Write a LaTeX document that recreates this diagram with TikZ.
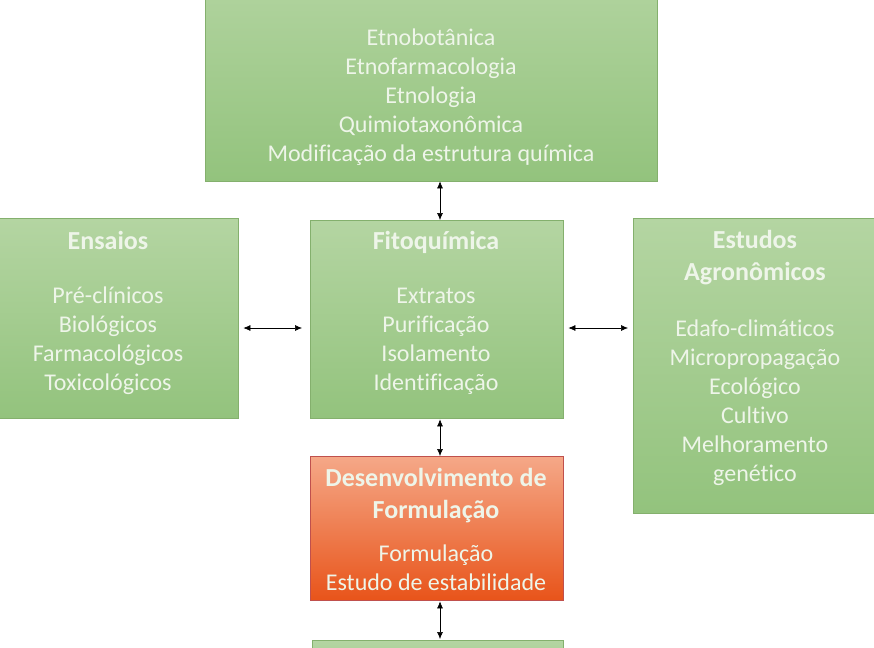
\documentclass[tikz,border=0pt]{standalone}
\usepackage{fontspec}
\setmainfont{Carlito}[Ligatures=NoCommon]
\usetikzlibrary{arrows.meta}

\definecolor{greentop}{HTML}{B4D5A2}
\definecolor{greenbot}{HTML}{93C37D}
\definecolor{greenline}{HTML}{84B06D}
\definecolor{orangetop}{HTML}{F5A888}
\definecolor{orangebot}{HTML}{E8541A}
\definecolor{orangeline}{HTML}{C0504D}
\definecolor{txtcol}{HTML}{EEF5E9}

\begin{document}
\begin{tikzpicture}[x=1pt, y=-1pt,
  box/.style={draw=greenline, top color=greentop, bottom color=greenbot, inner sep=0pt, anchor=north west},
  hotbox/.style={draw=orangeline, top color=orangetop, bottom color=orangebot, inner sep=0pt, anchor=north west},
  items/.style={text=txtcol, align=center, font=\fontsize{24}{29}\selectfont},
  heading/.style={text=txtcol, align=center, font=\bfseries\fontsize{26}{32}\selectfont},
  link/.style={{Latex[length=7pt,width=6pt]}-{Latex[length=7pt,width=6pt]}, semithick}]
  \useasboundingbox (0,0) rectangle (874,647);

  % boxes
  \node[box, minimum width=452pt, minimum height=221pt] (etno) at (205,-40) {};
  \node[box, minimum width=260pt, minimum height=200pt] (ensaios) at (-22,218) {};
  \node[box, minimum width=253pt, minimum height=198pt] (fito) at (310,220) {};
  \node[box, minimum width=245pt, minimum height=295pt] (agro) at (633,218) {};
  \node[hotbox, minimum width=253pt, minimum height=144pt] (form) at (310,456) {};
  \node[box, minimum width=251pt, minimum height=60pt] (next) at (312,640) {};

  % texts
  \node[items] (etnoitems) at (431,97) {Etnobotânica\\Etnofarmacologia\\Etnologia\\Quimiotaxonômica\\Modificação da estrutura química};
  \node[heading] (ensaiostitle) at (108,240) {Ensaios};
  \node[items] (ensaiositems) at (108,341) {Pré-clínicos\\Biológicos\\Farmacológicos\\Toxicológicos};
  \node[heading] (fitotitle) at (436,242) {Fitoquímica};
  \node[items] (fitoitems) at (436,341) {Extratos\\Purificação\\Isolamento\\Identificação};
  \node[heading] (agrotitle) at (755,258) {Estudos\\Agronômicos};
  \node[items] (agroitems) at (755,403) {Edafo-climáticos\\Micropropagação\\Ecológico\\Cultivo\\Melhoramento\\genético};
  \node[heading] (formtitle) at (436,496) {Desenvolvimento de\\Formulação};
  \node[items] (formitems) at (436,568) {Formulação\\Estudo de estabilidade};

  % connectors
  \coordinate (mid) at (0,328);
  \coordinate (axis) at (440,0);
  \draw[link] (etno.south -| axis) -- (fito.north -| axis);
  \draw[link, shorten <=5pt, shorten >=8pt] (ensaios.east |- mid) -- (fito.west |- mid);
  \draw[link, shorten <=5pt, shorten >=5pt] (fito.east |- mid) -- (agro.west |- mid);
  \draw[link, shorten <=1pt] (fito.south -| axis) -- (form.north -| axis);
  \draw[link, shorten <=1pt, shorten >=1pt] (form.south -| axis) -- (next.north -| axis);
\end{tikzpicture}
\end{document}
